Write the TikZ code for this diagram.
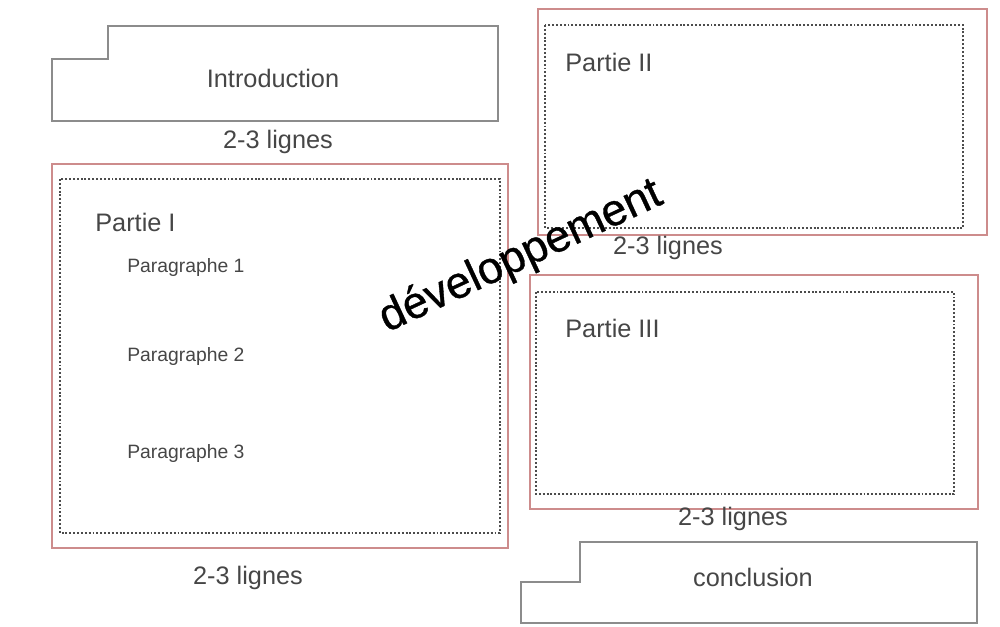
\documentclass[tikz,border=0pt]{standalone}
\usepackage{fontspec}
\setmainfont{Liberation Sans}
\newfontfamily\devfont[FakeBold=0.8]{Liberation Sans}
\definecolor{cadre}{RGB}{205,140,140}
\definecolor{trait}{RGB}{140,140,140}
\definecolor{texte}{RGB}{70,70,70}
\tikzset{
  partie/.style={draw=cadre,line width=0.8pt},
  pointille/.style={draw=black!70,line width=1.5pt,dash pattern=on 1.1pt off 1.1pt},
  bloc/.style={draw=trait,line width=1.1pt},
  titre/.style={text=texte,inner sep=0pt,font=\fontsize{14.4}{17}\selectfont},
  para/.style={text=texte,inner sep=0pt,anchor=west,font=\fontsize{11}{13}\selectfont}
}
\begin{document}
\begin{tikzpicture}[x=0.02cm,y=-0.02cm]
  \useasboundingbox (0,0) rectangle (1000,626);
  % introduction
  \draw[bloc] (52,59)--(108,59)--(108,26)--(498,26)--(498,121)--(52,121)--cycle;
  \node[titre] (intro) at (273,78) {Introduction};
  \node[titre] (lignesA) at (278,142) {2-3 lignes};
  % partie I
  \draw[partie] (52,164) rectangle (508,548);
  \draw[pointille] (60,179) rectangle (500,533);
  \node[titre,anchor=west] (partieI) at (95,222) {Partie I};
  \node[para] (para1) at (127,267) {Paragraphe 1};
  \node[para] (para2) at (127,356) {Paragraphe 2};
  \node[para] (para3) at (127,453) {Paragraphe 3};
  \node[titre] (lignesB) at (248,578) {2-3 lignes};
  % partie II
  \draw[partie] (538,9) rectangle (987,235);
  \draw[pointille] (545,25) rectangle (963,228);
  \node[titre,anchor=west] (partieII) at (565,62) {Partie II};
  \node[titre] (lignesC) at (668,248) {2-3 lignes};
  % partie III
  \draw[partie] (530,275) rectangle (978,509);
  \draw[pointille] (536,292) rectangle (954,494);
  \node[titre,anchor=west] (partieIII) at (565,328) {Partie III};
  \node[titre] (lignesD) at (733,519) {2-3 lignes};
  % conclusion
  \draw[bloc] (521,582)--(580,582)--(580,542)--(977,542)--(977,623)--(521,623)--cycle;
  \node[titre] (concl) at (753,577) {conclusion};
  % developpement
  \node[rotate=25,inner sep=0pt,font=\devfont\fontsize{25.5}{30}\selectfont] (dev) at (521,257) {développement};
\end{tikzpicture}
\end{document}
